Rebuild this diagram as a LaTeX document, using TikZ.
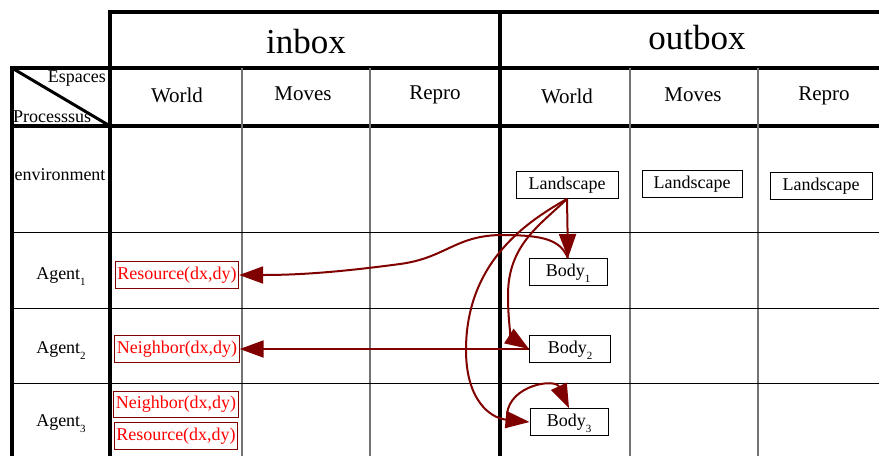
\documentclass[tikz,border=0pt]{standalone}
\usepackage{fontspec}
\setmainfont{Liberation Serif}
\usepackage{tikz}
\usetikzlibrary{positioning}
\usetikzlibrary{arrows.meta}
\definecolor{darkred}{RGB}{128,0,0}
\tikzset{>={Triangle[length=24pt,width=17pt]}}
\newcommand{\lowidx}[1]{\smash{\raisebox{-6pt}{\fontsize{11}{11}\selectfont #1}}}
\tikzset{
  rule/.style={line width=4pt},
  thinrule/.style={line width=1pt},
  colrule/.style={line width=1.3pt, black!55},
  bigtext/.style={font=\fontsize{35}{40}\selectfont},
  headtext/.style={font=\fontsize{21}{24}\selectfont},
  rowtext/.style={font=\fontsize{18}{21}\selectfont},
  box/.style={draw, line width=0.9pt, font=\fontsize{18}{21}\selectfont, minimum height=27pt, inner sep=2pt},
  landbox/.style={box, minimum width=102pt},
  bodybox/.style={box, minimum width=78pt},
  redbox/.style={box, draw=darkred, text=red, minimum width=123pt},
  flow/.style={->, draw=darkred, line width=2pt}
}

\begin{document}
\begin{tikzpicture}[x=1pt, y=-1pt]
\useasboundingbox (0, 0) rectangle (879, 456);
\draw[rule] (108, 12) -- (879, 12);
\draw[rule] (110, 12) -- (110, 456);
\draw[rule] (500, 12) -- (500, 456);
\draw[rule] (10, 68) -- (879, 68);
\draw[rule] (10, 126) -- (879, 126);
\draw[rule] (12, 68) -- (12, 456);
\draw[line width=3pt] (12, 68) -- (110, 126);
\draw[colrule] (242, 68) -- (242, 456);
\draw[colrule] (370, 68) -- (370, 456);
\draw[colrule] (630, 68) -- (630, 456);
\draw[colrule] (758, 68) -- (758, 456);
\draw[thinrule] (12, 232) -- (879, 232);
\draw[thinrule] (12, 308) -- (879, 308);
\draw[thinrule] (12, 383) -- (879, 383);

\node[bigtext] (inbox) at (306, 42) {inbox};
\node[bigtext] (outbox) at (697, 38) {outbox};
\node[headtext] (inWorld) at (177, 95) {World};
\node[headtext] (inMoves) at (303, 94) {Moves};
\node[headtext] (inRepro) at (435, 95) {Repro};
\node[headtext] (outWorld) at (567, 96) {World};
\node[headtext] (outMoves) at (693, 95) {Moves};
\node[headtext] (outRepro) at (824, 96) {Repro};
\node[rowtext, anchor=east, inner sep=0pt] (espaces) at (106, 79) {Espaces};
\node[rowtext, anchor=west, inner sep=0pt] (processus) at (13, 117) {Processsus};
\node[rowtext] (env) at (60, 175) {environment};
\node[rowtext] (agent1) at (61, 275) {Agent\lowidx{1}};
\node[rowtext] (agent2) at (61, 349) {Agent\lowidx{2}};
\node[rowtext] (agent3) at (61, 422) {Agent\lowidx{3}};

\node[landbox] (land1) at (567, 185) {Landscape};
\node[landbox, minimum width=100pt] (land2) at (692, 184) {Landscape};
\node[landbox] (land3) at (821, 186) {Landscape};
\node[bodybox] (body1) at (568, 272) {Body\lowidx{1}};
\node[bodybox, minimum width=81pt] (body2) at (570, 349) {Body\lowidx{2}};
\node[bodybox] (body3) at (569, 422) {Body\lowidx{3}};
\node[redbox] (res1) at (177, 275) {Resource(dx,dy)};
\node[redbox] (nbr2) at (177, 349) {Neighbor(dx,dy)};
\node[redbox, minimum width=122pt, minimum height=26pt] (nbr3) at (176, 404) {Neighbor(dx,dy)};
\node[redbox, minimum width=121pt] (res3) at (176, 436) {Resource(dx,dy)};
\coordinate (loop3) at (507, 414);

\draw[flow] (land1.south) -- (body1.north);
\draw[flow] (body1.north) .. controls (560, 240) and (545, 235) .. (500, 235) .. controls (455, 236) and (445, 258) .. (400, 264) .. controls (340, 272) and (300, 275) .. (res1.east);
\draw[flow] (land1.south) .. controls (540, 225) and (508, 245) .. (508, 295) .. controls (508, 325) and (512, 338) .. (body2.west);
\draw[flow] (land1.south) .. controls (530, 220) and (466, 260) .. (466, 350) .. controls (466, 400) and (490, 418) .. (body3.west);
\draw[flow] (body2.west) -- (nbr2.east);
\draw[flow] (loop3) .. controls (510, 385) and (555, 378) .. (body3.north);
\end{tikzpicture}
\end{document}
